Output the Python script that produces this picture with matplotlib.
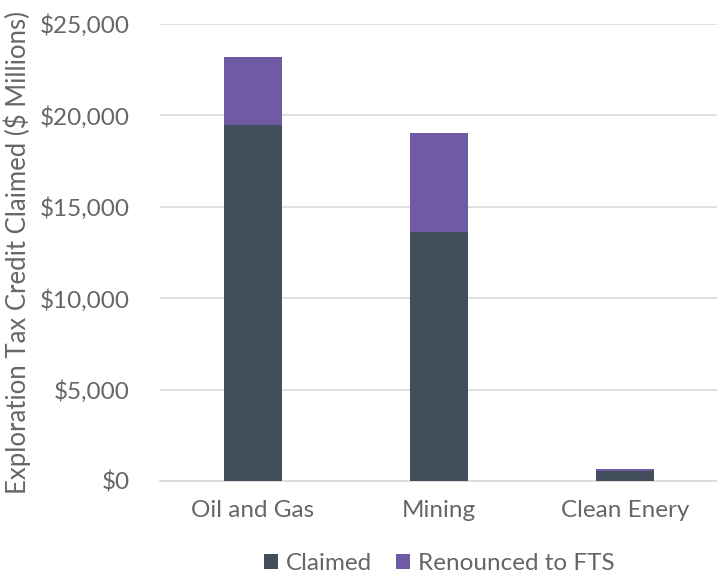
import numpy as np
import matplotlib.pyplot as plt
from matplotlib.ticker import FuncFormatter

categories = ['Oil and Gas', 'Mining', 'Clean Enery']
claimed = [19500, 13600, 560]
renounced = [3700, 5450, 100]

plt.rcParams['font.family'] = ['Lato', 'DejaVu Sans']
txt = '#666666'

fig = plt.figure(figsize=(7.17, 5.75), dpi=100)
ax = fig.add_axes([160/717, 1-481/575, 558/717, 457/575])

x = np.arange(len(categories))
ax.bar(x, claimed, width=0.31, color='#434E5C', label='Claimed', zorder=3)
ax.bar(x, renounced, width=0.31, bottom=claimed, color='#6F5BA3', label='Renounced to FTS', zorder=3)

ax.set_xlim(-0.5, 2.5)
ax.set_ylim(0, 25000)
ax.set_yticks(np.arange(0, 25001, 5000))
ax.yaxis.set_major_formatter(FuncFormatter(lambda v, p: '${:,.0f}'.format(v)))
ax.set_xticks(x)
ax.set_xticklabels(categories)
ax.tick_params(axis='both', length=0, labelsize=17.5, colors=txt)
ax.tick_params(axis='y', pad=22)
ax.tick_params(axis='x', pad=14)
ax.grid(axis='y', color='#d9d9d9', linewidth=1.2, zorder=0)
for s in ['top', 'right', 'left']:
    ax.spines[s].set_visible(False)
ax.spines['bottom'].set_color('#d9d9d9')
ax.spines['bottom'].set_linewidth(1.2)

ax.set_ylabel('Exploration Tax Credit Claimed ($ Millions)', fontsize=18.5, color=txt, labelpad=6)

# legend kept just inside the bottom edge
leg = ax.legend(loc='upper center', bbox_to_anchor=(0.5, -0.12), ncol=2, frameon=False,
                fontsize=17.5, handlelength=0.6, handleheight=0.6, handletextpad=0.3,
                columnspacing=1.0, borderpad=0.2)
for t in leg.get_texts():
    t.set_color(txt)

fig.savefig('out.png', dpi=100)
